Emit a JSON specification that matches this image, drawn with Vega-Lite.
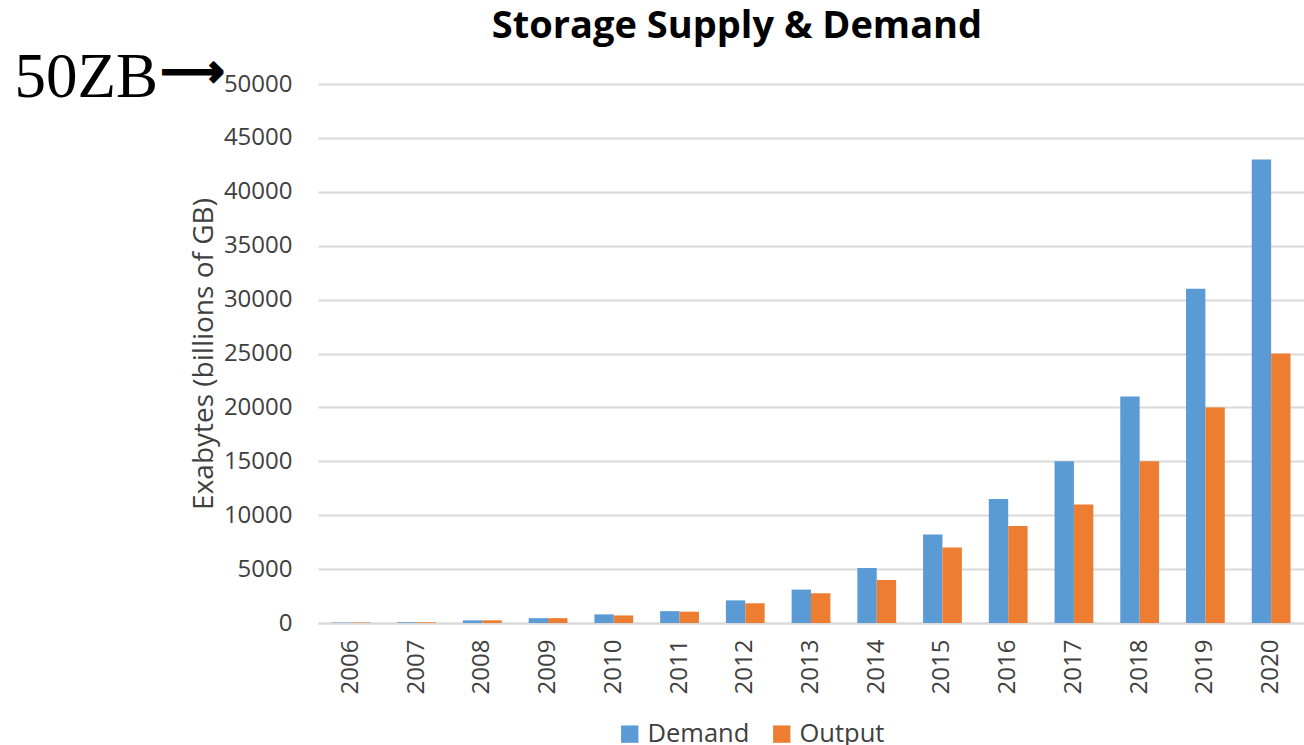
{
  "$schema": "https://vega.github.io/schema/vega-lite/v6.json",
  "width": 986,
  "height": 539,
  "autosize": {"type": "none"},
  "padding": {"left": 318, "top": 84, "right": 0, "bottom": 122},
  "background": "white",
  "config": {"font": "Open Sans", "view": {"stroke": null}},
  "title": {"text": "Storage Supply & Demand", "fontSize": 38, "fontWeight": "bold", "color": "#000000", "anchor": "middle", "dx": -74, "offset": 1},
  "layer": [
    {
      "data": {"values": [
        {"year": "2006", "series": "Demand", "value": 40},
        {"year": "2006", "series": "Output", "value": 40},
        {"year": "2007", "series": "Demand", "value": 70},
        {"year": "2007", "series": "Output", "value": 70},
        {"year": "2008", "series": "Demand", "value": 250},
        {"year": "2008", "series": "Output", "value": 250},
        {"year": "2009", "series": "Demand", "value": 450},
        {"year": "2009", "series": "Output", "value": 450},
        {"year": "2010", "series": "Demand", "value": 800},
        {"year": "2010", "series": "Output", "value": 700},
        {"year": "2011", "series": "Demand", "value": 1100},
        {"year": "2011", "series": "Output", "value": 1050},
        {"year": "2012", "series": "Demand", "value": 2100},
        {"year": "2012", "series": "Output", "value": 1830},
        {"year": "2013", "series": "Demand", "value": 3100},
        {"year": "2013", "series": "Output", "value": 2750},
        {"year": "2014", "series": "Demand", "value": 5100},
        {"year": "2014", "series": "Output", "value": 4000},
        {"year": "2015", "series": "Demand", "value": 8200},
        {"year": "2015", "series": "Output", "value": 7000},
        {"year": "2016", "series": "Demand", "value": 11500},
        {"year": "2016", "series": "Output", "value": 9000},
        {"year": "2017", "series": "Demand", "value": 15000},
        {"year": "2017", "series": "Output", "value": 11000},
        {"year": "2018", "series": "Demand", "value": 21000},
        {"year": "2018", "series": "Output", "value": 15000},
        {"year": "2019", "series": "Demand", "value": 31000},
        {"year": "2019", "series": "Output", "value": 20000},
        {"year": "2020", "series": "Demand", "value": 43000},
        {"year": "2020", "series": "Output", "value": 25000}
      ]},
      "mark": {"type": "bar"},
      "encoding": {
        "x": {"field": "year", "type": "nominal", "scale": {"paddingInner": 0.41, "paddingOuter": 0.205},
              "axis": {"title": null, "labelAngle": -90, "labelFontSize": 24, "labelColor": "#404040", "labelPadding": 16, "ticks": false, "domainColor": "#d9d9d9", "domainWidth": 2, "grid": false}},
        "xOffset": {"field": "series", "type": "nominal", "scale": {"paddingInner": 0, "paddingOuter": 0}},
        "y": {"field": "value", "type": "quantitative", "scale": {"domain": [0, 50000], "nice": false},
              "axis": {"title": "Exabytes (billions of GB)", "titleFontSize": 28, "titleFontWeight": "normal", "titleColor": "#404040", "titlePadding": 5,
                       "values": [0, 5000, 10000, 15000, 20000, 25000, 30000, 35000, 40000, 45000, 50000], "format": "d",
                       "labelFontSize": 24, "labelColor": "#404040", "labelPadding": 26, "ticks": false, "domain": false, "grid": true, "gridColor": "#d9d9d9", "gridWidth": 2}},
        "color": {"field": "series", "type": "nominal", "scale": {"domain": ["Demand", "Output"], "range": ["#5b9bd5", "#ed7d31"]},
                  "legend": {"orient": "none", "legendX": 299, "legendY": 637, "padding": 0, "direction": "horizontal", "title": null, "labelFontSize": 25.5, "labelColor": "#404040",
                             "symbolType": "square", "symbolSize": 300, "symbolStrokeWidth": 0, "columnPadding": 19, "labelOffset": 5}}
      }
    },
    {
      "data": {"values": [{"label": "50ZB", "value": 50000}]},
      "mark": {"type": "text", "font": "Liberation Serif", "fontSize": 63, "align": "right", "baseline": "alphabetic", "dx": -160, "dy": 13, "color": "#000000"},
      "encoding": {"x": {"value": 0}, "y": {"field": "value", "type": "quantitative"}, "text": {"field": "label"}}
    },
    {
      "data": {"values": [{"label": "⟶", "value": 50000}]},
      "mark": {"type": "text", "font": "DejaVu Sans", "fontSize": 44, "align": "left", "baseline": "middle", "dx": -157, "dy": -11, "color": "#000000", "stroke": "#000000", "strokeWidth": 3},
      "encoding": {"x": {"value": 0}, "y": {"field": "value", "type": "quantitative"}, "text": {"field": "label"}}
    }
  ]
}
